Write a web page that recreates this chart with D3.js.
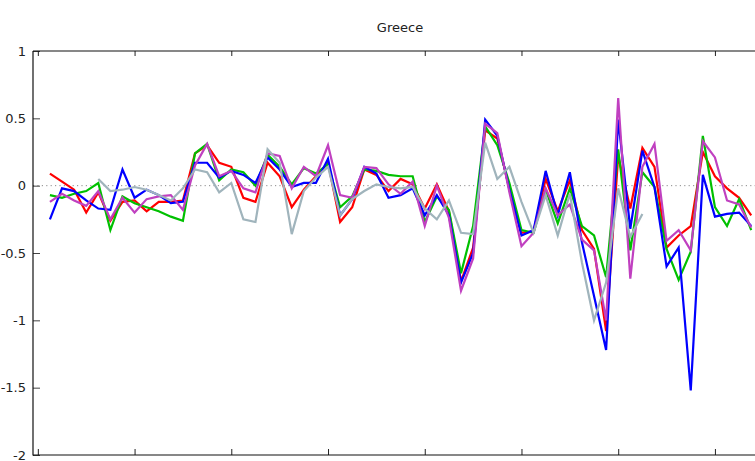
<!DOCTYPE html>
<html>
<head>
<meta charset="utf-8">
<script src="https://cdn.jsdelivr.net/npm/d3@7"></script>
<style>
  html, body { margin: 0; padding: 0; background: #fff; }
  svg { display: block; }
  text { font-family: "DejaVu Sans", Verdana, sans-serif; fill: #222; }
</style>
</head>
<body>
<svg id="chart" width="755" height="461"></svg>
<script>
// Quarterly series, one value per quarter (index 0..58); null = no observation
const red = [0.09, 0.03, -0.03, -0.2, -0.05, -0.26, -0.12, -0.11, -0.19, -0.12,
  -0.12, -0.11, 0.24, 0.3, 0.17, 0.14, -0.09, -0.12, 0.17, 0.07,
  -0.16, -0.03, 0.07, 0.17, -0.27, -0.16, 0.12, 0.08, -0.04, 0.05,
  0.01, -0.17, 0.01, -0.19, -0.71, -0.46, 0.41, 0.35, -0.02, -0.35,
  -0.34, 0.05, -0.19, 0.04, -0.33, -0.47, -1.08, 0.22, -0.17, 0.28,
  0.14, -0.46, -0.37, -0.3, 0.25, 0.07, -0.02, -0.09, -0.22];
const green = [-0.07, -0.09, -0.06, -0.04, 0.02, -0.33, -0.08, -0.13, -0.16, -0.19,
  -0.23, -0.26, 0.24, 0.31, 0.04, 0.12, 0.1, 0.0, 0.23, 0.14,
  0.01, 0.13, 0.09, 0.16, -0.16, -0.08, 0.12, 0.11, 0.08, 0.07,
  0.07, -0.27, -0.08, -0.18, -0.65, -0.3, 0.44, 0.3, 0.02, -0.33,
  -0.35, -0.03, -0.28, -0.02, -0.3, -0.37, -0.68, 0.27, -0.48, 0.1,
  -0.01, -0.47, -0.7, -0.49, 0.37, -0.16, -0.3, -0.1, -0.33];
const blue = [-0.25, -0.02, -0.04, -0.11, -0.17, -0.18, 0.12, -0.09, -0.03, -0.07,
  -0.13, -0.12, 0.17, 0.17, 0.06, 0.11, 0.08, 0.02, 0.21, 0.12,
  -0.01, 0.02, 0.02, 0.2, -0.22, -0.1, 0.14, 0.09, -0.09, -0.07,
  -0.02, -0.22, -0.07, -0.22, -0.72, -0.5, 0.49, 0.37, -0.03, -0.37,
  -0.33, 0.11, -0.22, 0.1, -0.42, -0.82, -1.22, 0.49, -0.32, 0.26,
  -0.01, -0.6, -0.46, -1.52, 0.08, -0.23, -0.21, -0.2, -0.3];
const magenta = [-0.12, -0.06, -0.11, -0.15, -0.04, -0.25, -0.09, -0.2, -0.1, -0.08,
  -0.07, -0.18, 0.15, 0.31, 0.07, 0.11, -0.02, -0.05, 0.24, 0.22,
  -0.02, 0.14, 0.07, 0.3, -0.07, -0.09, 0.14, 0.13, 0.01, -0.06,
  0.03, -0.3, 0.0, -0.24, -0.78, -0.54, 0.46, 0.39, -0.05, -0.45,
  -0.35, -0.02, -0.22, -0.14, -0.4, -0.48, -1.0, 0.65, -0.69, 0.14,
  0.31, -0.41, -0.33, -0.48, 0.33, 0.21, -0.11, -0.14, -0.31];
const gray = [null, null, null, null, 0.05, -0.04, -0.03, -0.01, -0.03, -0.07,
  -0.11, -0.02, 0.12, 0.1, -0.05, 0.02, -0.25, -0.27, 0.27, 0.17,
  -0.36, -0.04, 0.06, 0.14, -0.22, -0.1, -0.04, 0.01, -0.01, -0.02,
  -0.01, -0.17, -0.25, -0.11, -0.35, -0.36, 0.32, 0.05, 0.14, -0.12,
  -0.35, -0.07, -0.37, -0.06, -0.57, -1.0, -0.72, -0.02, -0.38, -0.21,
  null, null, null, null, null, null, null, null, null];

const seriesColors = ["#ff0000", "#00c000", "#0000ff", "#c040c0", "#a0b4bc"];
const seriesList = [red, green, blue, magenta, gray];

// Quarter positions of the x tick marks (every two years), y tick values
const xTickQuarters = [-1, 7, 15, 23, 31, 39, 47, 55];
const yTickValues = [1, 0.5, 0, -0.5, -1, -1.5, -2];

(function draw() {
  const svg = d3.select("#chart");
  const W = 755;
  const plotLeft = 33, plotTop = 51, plotBottom = 455;

  const x = d3.scaleLinear().domain([-1.4, 59]).range([plotLeft, 763.3]);
  const y = d3.scaleLinear().domain([-2, 1]).range([plotBottom, plotTop]);

  // Title
  svg.append("text")
    .attr("x", 400).attr("y", 32)
    .attr("text-anchor", "middle")
    .style("font-size", "13px")
    .text("Greece");

  // Zero reference line
  svg.append("line")
    .attr("x1", plotLeft).attr("x2", W)
    .attr("y1", y(0)).attr("y2", y(0))
    .attr("stroke", "#8a8a8a").attr("stroke-width", 1)
    .attr("stroke-dasharray", "1.2,3.2");

  // Series lines
  const line = d3.line()
    .defined(d => d != null)
    .x((d, i) => x(i))
    .y(d => y(d));

  svg.append("clipPath").attr("id", "plotclip")
    .append("rect").attr("x", plotLeft).attr("y", plotTop - 2)
    .attr("width", W - plotLeft).attr("height", plotBottom - plotTop + 4);

  const plot = svg.append("g").attr("clip-path", "url(#plotclip)");
  seriesList.forEach((s, k) => {
    plot.append("path")
      .datum(s)
      .attr("fill", "none")
      .attr("stroke", seriesColors[k])
      .attr("stroke-width", 2.2)
      .attr("stroke-linejoin", "miter")
      .attr("d", line);
  });

  // Left axis with inward ticks
  const yAxis = d3.axisRight(y).tickValues(yTickValues).tickSize(7).tickFormat("");
  const gy = svg.append("g").attr("transform", `translate(${plotLeft},0)`).call(yAxis);
  gy.select(".domain").remove();
  gy.selectAll(".tick line").attr("stroke", "#444").attr("stroke-width", 1);

  // Tick labels use a plain hyphen for the sign
  svg.selectAll(".ylab")
    .data(yTickValues)
    .join("text")
    .attr("class", "ylab")
    .attr("x", 26)
    .attr("y", d => y(d) + 4.5)
    .attr("text-anchor", "end")
    .style("font-size", "13px")
    .text(d => String(d));

  // Bottom axis, ticks pointing up
  const xAxisB = d3.axisTop(x).tickValues(xTickQuarters).tickSize(6).tickFormat("");
  const gxb = svg.append("g").attr("transform", `translate(0,${plotBottom})`).call(xAxisB);
  gxb.select(".domain").remove();
  gxb.selectAll(".tick line").attr("stroke", "#222");

  // Top border, ticks pointing down
  const xAxisT = d3.axisBottom(x).tickValues(xTickQuarters).tickSize(5).tickFormat("");
  const gxt = svg.append("g").attr("transform", `translate(0,${plotTop})`).call(xAxisT);
  gxt.select(".domain").remove();
  gxt.selectAll(".tick line").attr("stroke", "#222");

  // Frame lines
  svg.append("line").attr("x1", plotLeft).attr("x2", plotLeft).attr("y1", plotTop).attr("y2", plotBottom + 0.5)
    .attr("stroke", "#111").attr("stroke-width", 1.2);
  svg.append("line").attr("x1", plotLeft).attr("x2", W).attr("y1", plotBottom).attr("y2", plotBottom)
    .attr("stroke", "#111").attr("stroke-width", 1.2);
  svg.append("line").attr("x1", plotLeft).attr("x2", W).attr("y1", plotTop).attr("y2", plotTop)
    .attr("stroke", "#111").attr("stroke-width", 1.2);
})();
</script>
</body>
</html>
